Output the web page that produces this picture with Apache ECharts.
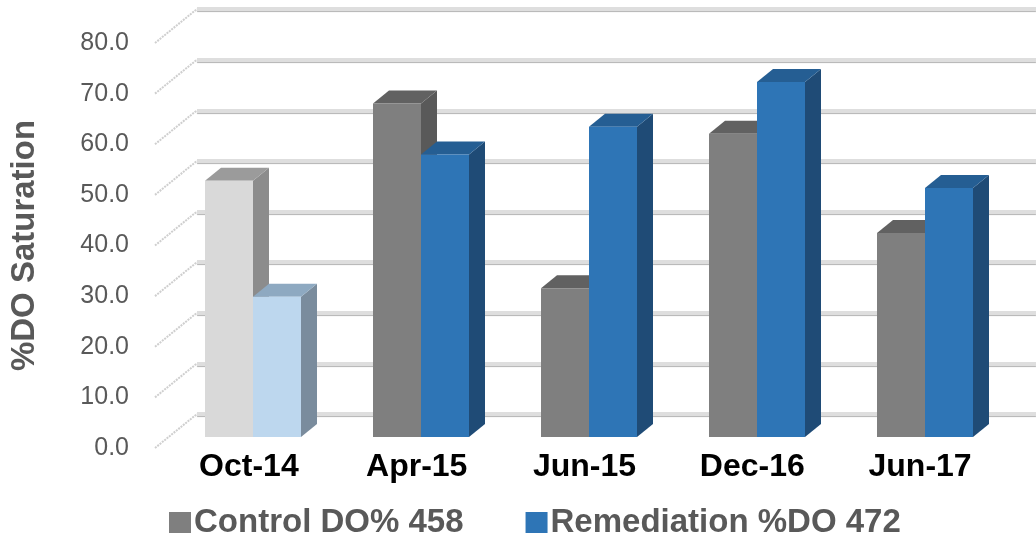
<!DOCTYPE html>
<html>
<head>
<meta charset="utf-8">
<script src="https://cdn.jsdelivr.net/npm/echarts@6/dist/echarts.min.js"></script>
<style>
  html, body { margin: 0; padding: 0; background: #fff; }
  #chart { width: 1036px; height: 539px; }
</style>
</head>
<body>
<div id="chart"></div>
<script>
var categories = ['Oct-14', 'Apr-15', 'Jun-15', 'Dec-16', 'Jun-17'];
var controlValues = [50.6, 65.9, 29.4, 59.9, 40.3];
var remediationValues = [27.7, 55.8, 61.3, 70.1, 49.2];
var yTicks = [0, 10, 20, 30, 40, 50, 60, 70, 80];

// oblique depth of each bar, in pixels
var DX = 16, DY = -13;
// front edge of the side wall -> back wall
var WALL_DX = 42, WALL_DY = -34;
var BAR_FRAC = 48 / 168;

var controlColors = { front: '#7f7f7f', top: '#616161', side: '#595959' };
var controlFirst = { front: '#d9d9d9', top: '#9b9b9b', side: '#8c8c8c' };
var remColors = { front: '#2e75b6', top: '#255e93', side: '#1f4b76' };
var remFirst = { front: '#bdd7ee', top: '#8ea9c1', side: '#7a8c9d' };

function makeRender(side, normal, first) {
  return function (params, api) {
    var i = api.value(0), v = api.value(1);
    var base = api.coord([i, 0]);
    var top = api.coord([i, v]);
    var w = api.size([1, 0])[0] * BAR_FRAC;
    var x0 = side < 0 ? base[0] - w : base[0];
    var x1 = x0 + w;
    var c = i === 0 ? first : normal;
    return {
      type: 'group',
      children: [
        { type: 'polygon', shape: { points: [[x1, top[1]], [x1 + DX, top[1] + DY], [x1 + DX, base[1] + DY], [x1, base[1]]] }, style: { fill: c.side } },
        { type: 'polygon', shape: { points: [[x0, top[1]], [x0 + DX, top[1] + DY], [x1 + DX, top[1] + DY], [x1, top[1]]] }, style: { fill: c.top } },
        { type: 'rect', shape: { x: x0, y: top[1], width: w, height: base[1] - top[1] }, style: { fill: c.front } }
      ]
    };
  };
}

var chart = echarts.init(document.getElementById('chart'));

chart.setOption({
  animation: false,
  textStyle: { fontFamily: 'Liberation Sans' },
  grid: [
    // bar front plane
    { left: 169, right: 27, top: 32, bottom: 102 },
    // front plane: labels
    { left: 164, right: 32, top: 43, bottom: 91 },
    // back wall
    { left: 197, right: 0, top: 9, bottom: 125 }
  ],
  xAxis: [
    { gridIndex: 0, type: 'category', data: categories, show: false },
    {
      gridIndex: 1, type: 'category', data: categories,
      axisLine: { show: false }, axisTick: { show: false },
      axisLabel: { color: '#000', fontSize: 32, fontWeight: 'bold', margin: 3 }
    },
    { gridIndex: 2, type: 'value', min: 0, max: 1, show: false }
  ],
  yAxis: [
    { gridIndex: 0, type: 'value', min: 0, max: 80, interval: 10, show: false },
    {
      gridIndex: 1, type: 'value', min: 0, max: 80, interval: 10,
      name: '%DO Saturation', nameLocation: 'middle', nameGap: 124,
      nameTextStyle: { color: '#595959', fontSize: 33, fontWeight: 'bold' },
      axisLine: { show: false }, axisTick: { show: false }, splitLine: { show: false },
      axisLabel: {
        color: '#595959', fontSize: 25, margin: 36,
        formatter: function (v) { return v.toFixed(1); }
      }
    },
    {
      gridIndex: 2, type: 'value', min: 0, max: 80, interval: 10,
      axisLine: { show: false }, axisTick: { show: false }, axisLabel: { show: false },
      splitLine: {
        lineStyle: {
          color: '#dedede', width: 4,
          shadowColor: 'rgba(0,0,0,0.3)', shadowOffsetY: 1, shadowBlur: 1
        }
      }
    }
  ],
  legend: {
    left: 164, top: 501,
    itemWidth: 22, itemHeight: 21, itemGap: 62,
    icon: 'rect',
    textStyle: { color: '#595959', fontSize: 33, fontWeight: 'bold', padding: [0, 0, 0, -2] },
    data: ['Control DO% 458', 'Remediation %DO 472']
  },
  series: [
    {
      // side wall edges
      type: 'custom', xAxisIndex: 2, yAxisIndex: 2, silent: true,
      data: yTicks.map(function (t) { return [0, t]; }),
      renderItem: function (params, api) {
        var p = api.coord([0, api.value(1)]);
        return {
          type: 'line',
          shape: { x1: p[0] - WALL_DX, y1: p[1] - WALL_DY, x2: p[0], y2: p[1] },
          style: { stroke: '#cfcfcf', lineWidth: 2, lineDash: [2, 1] }
        };
      }
    },
    {
      name: 'Control DO% 458', type: 'custom', xAxisIndex: 0, yAxisIndex: 0,
      itemStyle: { color: '#7f7f7f' },
      data: controlValues.map(function (v, i) { return [i, v]; }),
      renderItem: makeRender(-1, controlColors, controlFirst)
    },
    {
      name: 'Remediation %DO 472', type: 'custom', xAxisIndex: 0, yAxisIndex: 0,
      itemStyle: { color: '#2e75b6' },
      data: remediationValues.map(function (v, i) { return [i, v]; }),
      renderItem: makeRender(1, remColors, remFirst)
    }
  ]
});
</script>
</body>
</html>
